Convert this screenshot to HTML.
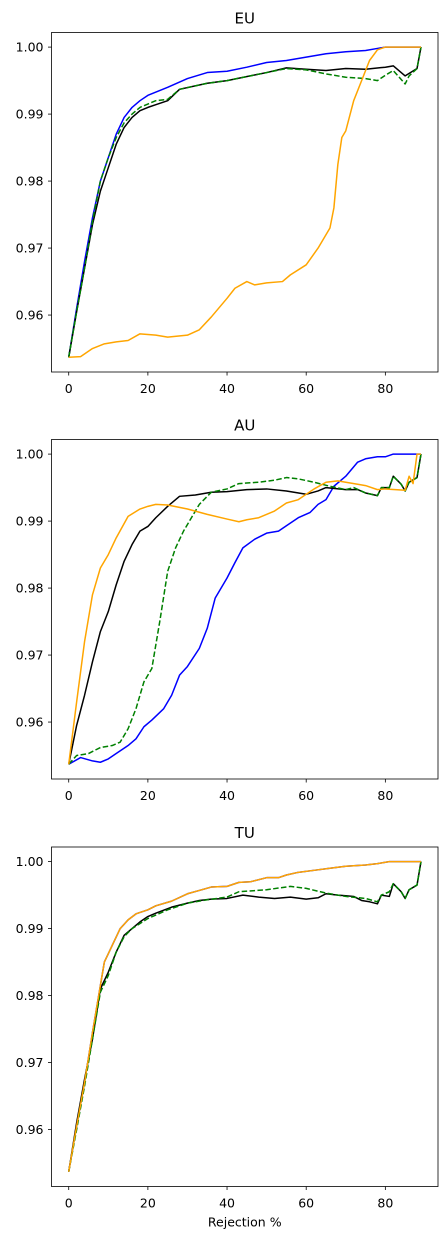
<!DOCTYPE html>
<html><head><meta charset="utf-8"><style>
html,body{margin:0;padding:0;background:#fff;}
svg{display:block;font-family:"DejaVu Sans","Liberation Sans",sans-serif;}
</style></head><body>
<svg id="chart" width="448" height="1240" viewBox="0 0 448 1240"></svg>
<script>
const xTicks=[0,20,40,60,80];
const yTicks=[0.96,0.97,0.98,0.99,1.00];
const yTickLabels=["0.96","0.97","0.98","0.99","1.00"];
const panelTitles=["EU","AU","TU"];
const seriesNames=["blue","black","green","orange"];
const seriesColors=["#0000ff","#000000","#008000","#ffa500"];

const euBlueX=[0,2,4,6,8,10,12,14,16,18,20,25,30,35,40,45,50,55,60,65,70,75,78,80,89];
const euBlueY=[.9537,.961,.968,.9745,.980,.9835,.987,.9895,.991,.992,.9928,.994,.9953,.9962,.9964,.997,.9977,.998,.9985,.999,.9993,.9995,.9998,1,1];
const euBlackX=[0,2,4,6,8,10,12,14,16,18,20,22,25,28,35,40,50,55,60,65,70,75,80,82,85,88,89];
const euBlackY=[.9537,.9605,.967,.9735,.9785,.982,.9855,.988,.9895,.9905,.991,.9914,.992,.9937,.9946,.995,.9962,.9969,.9967,.9965,.9968,.9967,.997,.9972,.9957,.9968,1];
const euGreenX=[0,2,4,6,8,10,12,14,16,18,20,22,25,28,35,40,50,55,60,65,70,75,78,80,82,85,86,88,89];
const euGreenY=[.9537,.9605,.967,.974,.980,.9835,.9865,.9887,.990,.991,.9915,.992,.9922,.9937,.9946,.995,.9962,.9968,.9966,.996,.9955,.9953,.995,.9958,.9965,.9945,.9957,.9968,1];
const euOrangeX=[0,3,6,9,12,15,18,22,25,30,33,36,40,42,45,47,50,54,56,60,63,66,67,68,69,70,72,74,76,78,80,89];
const euOrangeY=[.9537,.9538,.955,.9557,.956,.9562,.9572,.957,.9567,.957,.9578,.9597,.9625,.964,.965,.9645,.9648,.965,.966,.9675,.970,.973,.976,.9825,.9865,.9875,.992,.995,.998,.9996,1,1];

const auBlueX=[0,3,6,8,10,12,15,17,19,21,24,26,28,30,33,35,37,40,42,44,47,50,53,55,58,61,63,65,67,70,73,75,78,80,82,89];
const auBlueY=[.9537,.9547,.9542,.954,.9545,.9553,.9565,.9575,.9593,.9603,.962,.964,.967,.9683,.971,.974,.9785,.9815,.9838,.986,.9873,.9882,.9885,.9893,.9905,.9913,.9925,.9932,.9952,.9967,.9988,.9993,.9996,.9996,1,1];
const auBlackX=[0,2,4,6,8,10,12,14,16,18,20,22,25,28,32,36,40,45,50,55,60,63,65,70,73,75,78,79,81,82,84,85,86,88,89];
const auBlackY=[.9537,.9595,.964,.969,.9735,.9765,.9805,.984,.9865,.9885,.9892,.9905,.9922,.9937,.9939,.9943,.9944,.9947,.9948,.9945,.994,.9945,.995,.9947,.9947,.9942,.9938,.995,.995,.9967,.9955,.9945,.9958,.9965,1];
const auGreenX=[0,2,5,8,11,13,15,17,19,21,23,25,27,29,31,33,36,40,43,48,52,55,58,62,66,70,72,75,78,79,81,82,84,85,86,88,89];
const auGreenY=[.9537,.955,.9553,.9562,.9565,.957,.959,.962,.966,.968,.975,.9825,.986,.9885,.9905,.9925,.9943,.9948,.9956,.9958,.9961,.9965,.9963,.9958,.9952,.9947,.995,.9942,.9938,.995,.995,.9967,.9955,.9945,.9958,.9965,1];
const auOrangeX=[0,2,4,6,8,10,12,15,18,20,22,25,30,35,40,43,45,48,52,55,58,60,62,65,68,70,73,75,78,80,85,86,87,88,89];
const auOrangeY=[.9537,.963,.972,.979,.983,.985,.9875,.9907,.9918,.9922,.9925,.9924,.9918,.991,.9903,.9899,.9902,.9905,.9915,.9927,.9932,.994,.9948,.9958,.996,.9958,.9955,.9953,.9947,.9948,.9946,.9967,.9956,1,1];

const tuBlueX=[0,2,4,6,8,9,11,13,15,17,20,22,26,30,33,36,40,43,46,50,53,55,58,62,66,70,75,78,81,89];
const tuBlueY=[.9537,.9605,.967,.9745,.9815,.985,.9875,.990,.9913,.9922,.9928,.9934,.9941,.9952,.9957,.9962,.9963,.9969,.997,.9976,.9976,.998,.9984,.9987,.999,.9993,.9995,.9997,1,1];
const tuBlackX=[0,2,4,6,8,10,12,14,16,18,20,22,26,30,33,36,40,44,48,52,56,60,63,65,68,70,72,74,76,78,79,81,82,84,85,86,88,89];
const tuBlackY=[.9537,.961,.9675,.9735,.981,.9835,.9865,.989,.990,.991,.9918,.9923,.9932,.9938,.9942,.9944,.9945,.995,.9947,.9945,.9947,.9944,.9946,.9952,.995,.9949,.9948,.9942,.994,.9937,.995,.9948,.9967,.9955,.9945,.9958,.9965,1];
const tuGreenX=[0,2,4,6,8,10,12,14,16,20,25,30,35,40,43,50,56,60,65,70,75,78,79,81,82,84,85,86,88,89];
const tuGreenY=[.9537,.960,.9665,.9735,.9805,.983,.9865,.9888,.990,.9915,.9928,.9938,.9943,.9947,.9955,.9958,.9963,.996,.9953,.9948,.9945,.994,.995,.9955,.9967,.9955,.9945,.9958,.9965,1];
const tuOrangeX=tuBlueX.slice();
const tuOrangeY=tuBlueY.slice();

const panels=[
 {title:panelTitles[0],top:32.5,xs:[euBlueX,euBlackX,euGreenX,euOrangeX],ys:[euBlueY,euBlackY,euGreenY,euOrangeY]},
 {title:panelTitles[1],top:439.5,xs:[auBlueX,auBlackX,auGreenX,auOrangeX],ys:[auBlueY,auBlackY,auGreenY,auOrangeY]},
 {title:panelTitles[2],top:847,xs:[tuBlueX,tuBlackX,tuGreenX,tuOrangeX],ys:[tuBlueY,tuBlackY,tuGreenY,tuOrangeY]}
];
const NS="http://www.w3.org/2000/svg";
const svg=document.getElementById("chart");
const L=51.5,R=438,H=339.5;
const xMin=-4.35,xMax=93.3,yMin=0.9515,yMax=1.00218;
function mk(tag,attrs,parent){const e=document.createElementNS(NS,tag);for(const k in attrs)e.setAttribute(k,attrs[k]);(parent||svg).appendChild(e);return e;}
panels.forEach((p,pi)=>{
 const g=mk("g",{});
 
 
 const xs=v=>L+(v-xMin)/(xMax-xMin)*(R-L);
 const ys=v=>p.top+H-(v-yMin)/(yMax-yMin)*H;
 const t=mk("text",{x:(L+R)/2,y:p.top-9,"text-anchor":"middle","font-size":"15",fill:"#000"},g);
 t.textContent=p.title;
 
 
 p.xs.forEach((xa,si)=>{
  const d=xa.map((x,i)=>(i?"L":"M")+xs(x).toFixed(2)+","+ys(p.ys[si][i]).toFixed(2)).join("");
  const path=mk("path",{d:d,fill:"none",stroke:seriesColors[si],"stroke-width":"1.5","stroke-linejoin":"round"},g);
  if(seriesNames[si]==="green")path.setAttribute("stroke-dasharray","5.5,2.4");
  
  
 });
 const box=mk("rect",{x:L,y:p.top,width:R-L,height:H,fill:"none",stroke:"#000","stroke-width":"0.8"},g);
 
 
 xTicks.forEach(v=>{
  const x=xs(v);
  mk("line",{x1:x,x2:x,y1:p.top+H,y2:p.top+H+3.5,stroke:"#000","stroke-width":"0.8"},g);
  const tl=mk("text",{x:x,y:p.top+H+21,"text-anchor":"middle","font-size":"12.5",fill:"#000"},g);
  tl.textContent=v;
  
  
 });
 yTicks.forEach((v,i)=>{
  const y=ys(v);
  mk("line",{x1:L-3.5,x2:L,y1:y,y2:y,stroke:"#000","stroke-width":"0.8"},g);
  const tl=mk("text",{x:L-8,y:y+4.5,"text-anchor":"end","font-size":"12.5",fill:"#000"},g);
  tl.textContent=yTickLabels[i];
  
  
 });
 if(pi===2){
  const xl=mk("text",{x:(L+R)/2,y:p.top+H+40,"text-anchor":"middle","font-size":"12.5",fill:"#000"},g);
  xl.textContent="Rejection %";
  
  
 }
});
</script>
</body></html>
